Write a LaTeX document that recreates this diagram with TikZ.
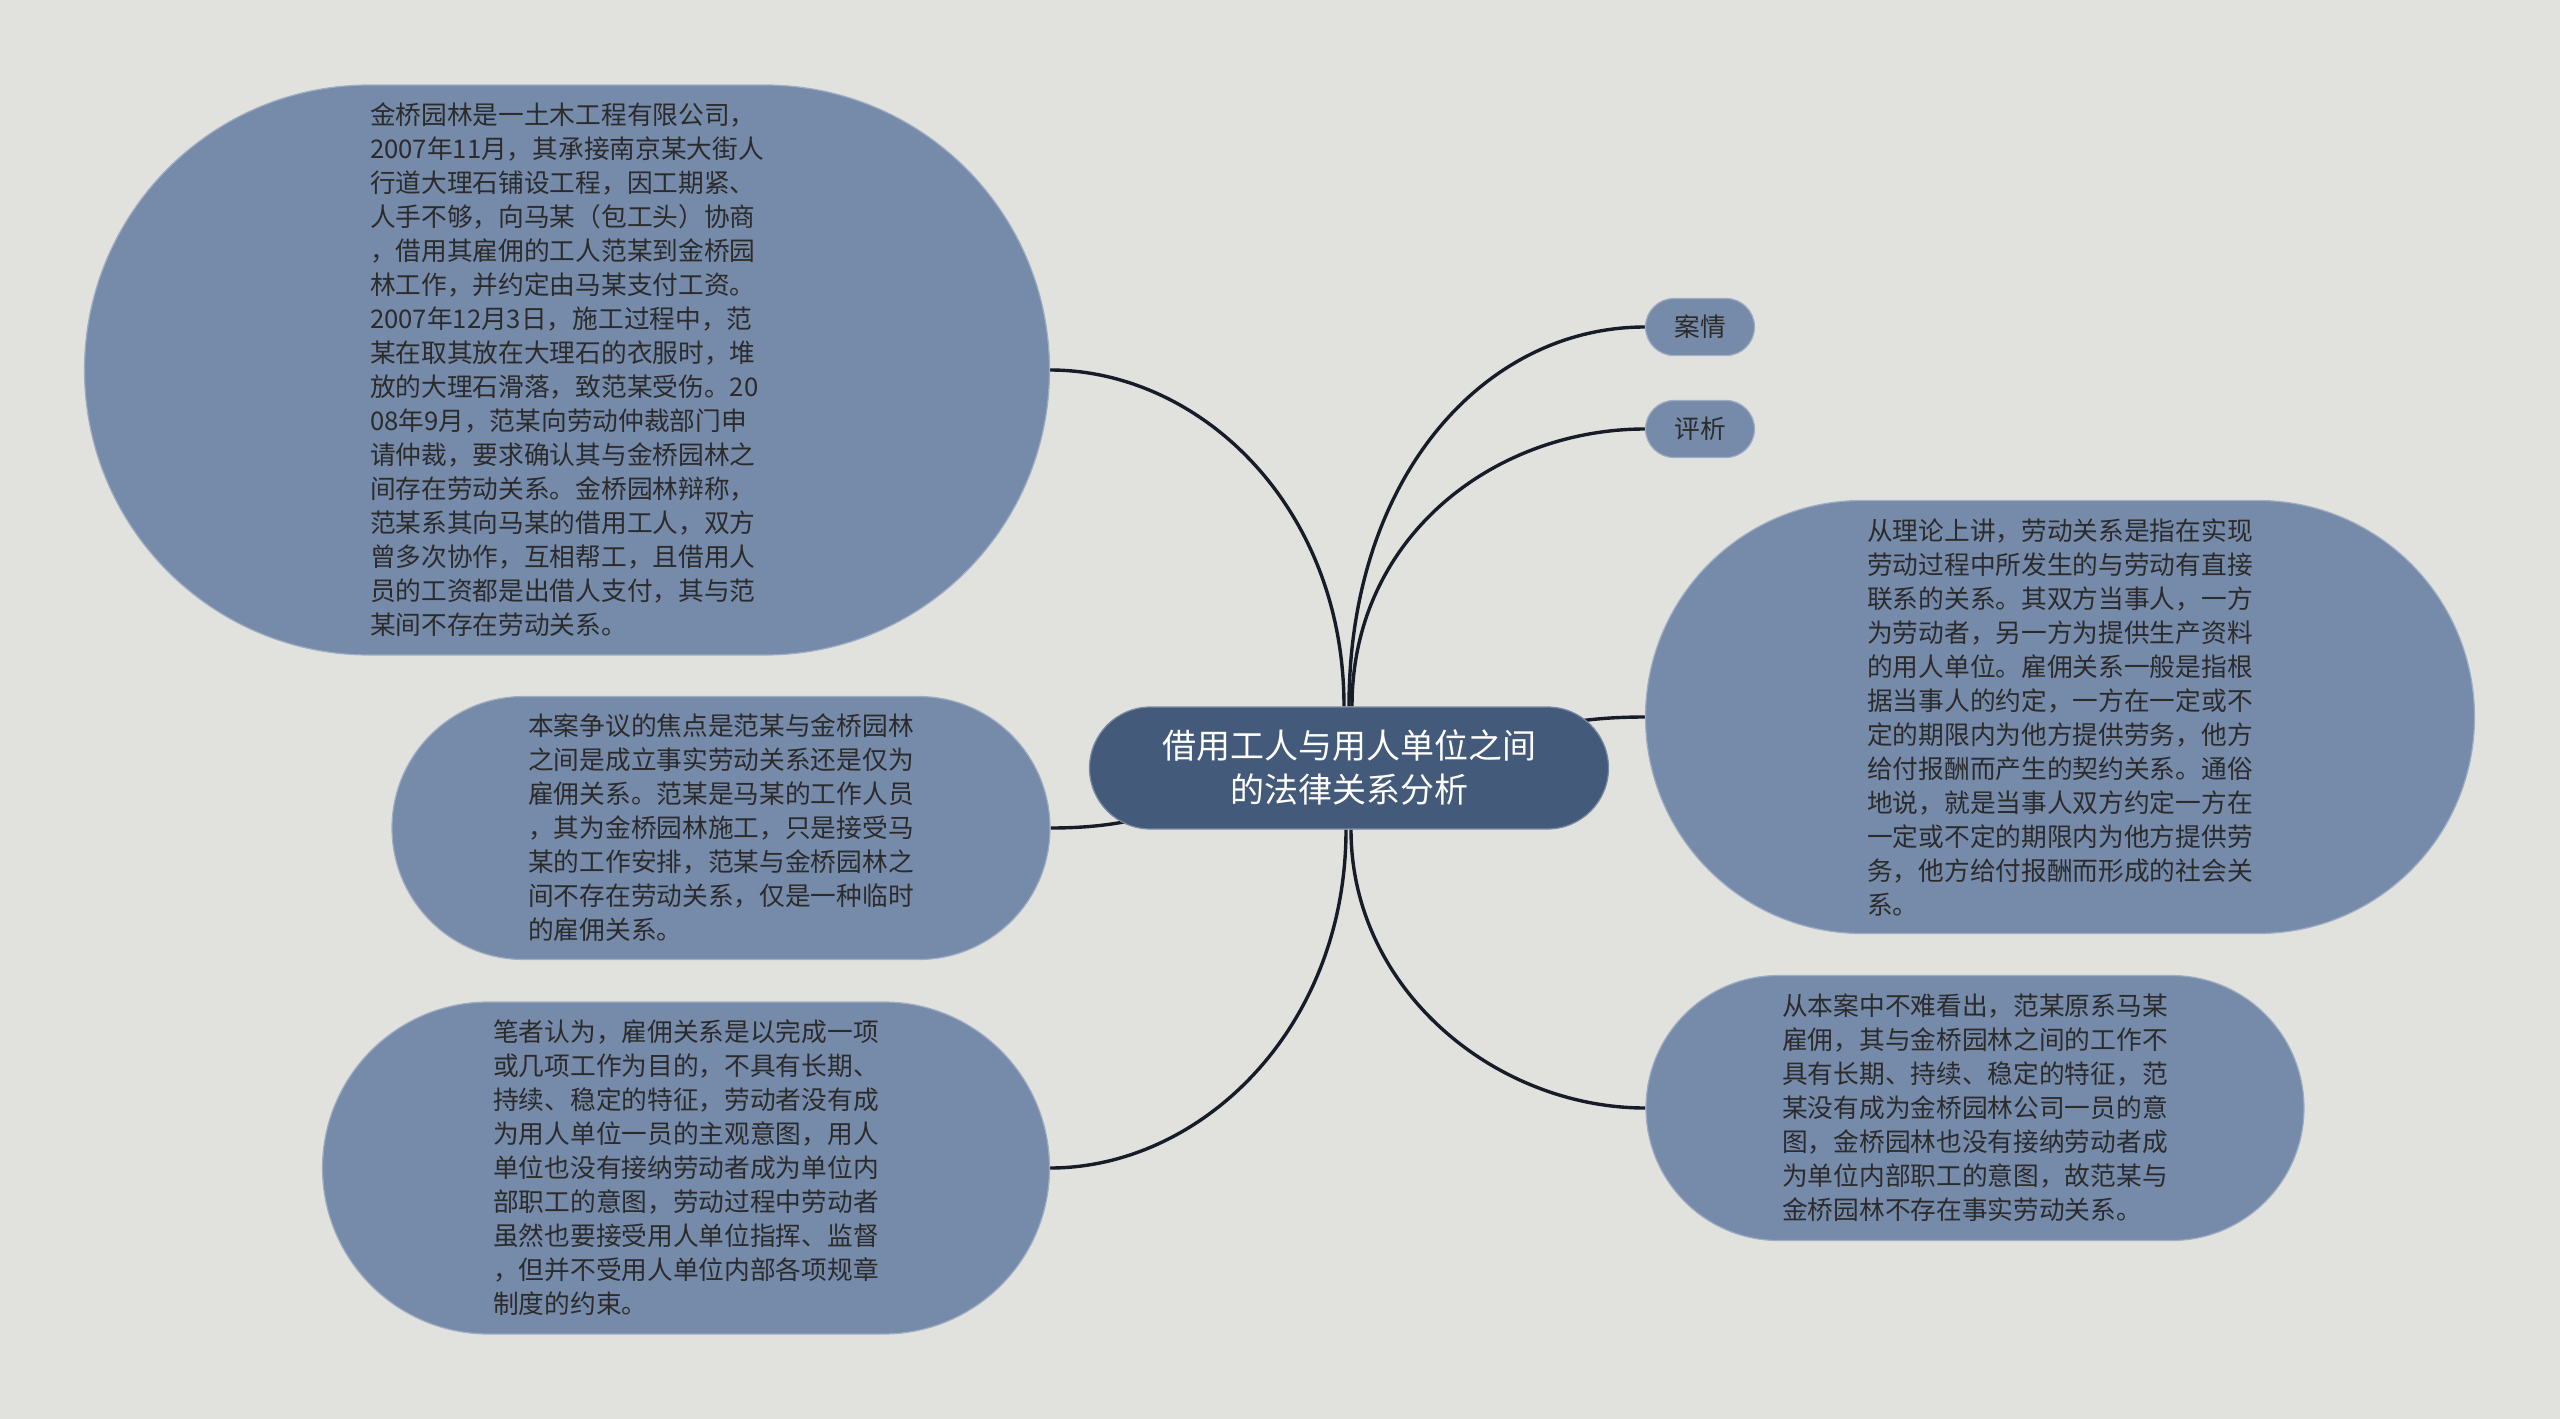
\documentclass[tikz,border=0pt]{standalone}
\usepackage{fontspec}
\setmainfont{Noto Sans CJK SC}
\usetikzlibrary{shapes.misc}
\definecolor{bgc}{HTML}{E1E2DE}
\definecolor{leaffill}{HTML}{768AAA}
\definecolor{rootfill}{HTML}{435A7A}
\definecolor{txt}{HTML}{2B2B2B}
\definecolor{edgec}{HTML}{161C28}
\pgfdeclarelayer{background}
\pgfsetlayers{background,main}
\tikzset{
  leaf/.style={rounded rectangle, fill=leaffill, draw=leaffill!70!white, line width=1.2pt,
    inner sep=0pt, text=txt, align=left, font=\fontsize{25.7}{34}\selectfont},
  root/.style={rounded rectangle, fill=rootfill, draw=rootfill!70!white, line width=1.2pt,
    inner sep=0pt, text=white, align=center, font=\fontsize{34}{44}\selectfont},
  edge/.style={draw=edgec, line width=3.4pt}
}
\begin{document}
\begin{tikzpicture}[x=1pt,y=-1pt]
\useasboundingbox (0,0) rectangle (2560,1419);

\node[root, minimum width=519pt, minimum height=122pt] (c) at (1349,768)
  {借用工人与用人单位之间\\的法律关系分析};

\node[leaf, minimum width=965pt, minimum height=570pt] (n1) at (567,370)
  {金桥园林是一土木工程有限公司，\\
   2007年11月，其承接南京某大街人\\
   行道大理石铺设工程，因工期紧、\\
   人手不够，向马某（包工头）协商\\
   ，借用其雇佣的工人范某到金桥园\\
   林工作，并约定由马某支付工资。\\
   2007年12月3日，施工过程中，范\\
   某在取其放在大理石的衣服时，堆\\
   放的大理石滑落，致范某受伤。20\\
   08年9月，范某向劳动仲裁部门申\\
   请仲裁，要求确认其与金桥园林之\\
   间存在劳动关系。金桥园林辩称，\\
   范某系其向马某的借用工人，双方\\
   曾多次协作，互相帮工，且借用人\\
   员的工资都是出借人支付，其与范\\
   某间不存在劳动关系。};

\node[leaf, minimum width=658pt, minimum height=263pt] (lm) at (721,828)
  {本案争议的焦点是范某与金桥园林\\
   之间是成立事实劳动关系还是仅为\\
   雇佣关系。范某是马某的工作人员\\
   ，其为金桥园林施工，只是接受马\\
   某的工作安排，范某与金桥园林之\\
   间不存在劳动关系，仅是一种临时\\
   的雇佣关系。};

\node[leaf, minimum width=727pt, minimum height=332pt] (lb) at (686,1168)
  {笔者认为，雇佣关系是以完成一项\\
   或几项工作为目的，不具有长期、\\
   持续、稳定的特征，劳动者没有成\\
   为用人单位一员的主观意图，用人\\
   单位也没有接纳劳动者成为单位内\\
   部职工的意图，劳动过程中劳动者\\
   虽然也要接受用人单位指挥、监督\\
   ，但并不受用人单位内部各项规章\\
   制度的约束。};

\node[leaf, minimum width=109pt, minimum height=57pt] (aq) at (1700,327) {案情};
\node[leaf, minimum width=109pt, minimum height=57pt] (px) at (1700,429) {评析};

\node[leaf, minimum width=829pt, minimum height=433pt] (rb) at (2060,717)
  {从理论上讲，劳动关系是指在实现\\
   劳动过程中所发生的与劳动有直接\\
   联系的关系。其双方当事人，一方\\
   为劳动者，另一方为提供生产资料\\
   的用人单位。雇佣关系一般是指根\\
   据当事人的约定，一方在一定或不\\
   定的期限内为他方提供劳务，他方\\
   给付报酬而产生的契约关系。通俗\\
   地说，就是当事人双方约定一方在\\
   一定或不定的期限内为他方提供劳\\
   务，他方给付报酬而形成的社会关\\
   系。};

\node[leaf, minimum width=658pt, minimum height=265pt] (rl) at (1975,1108)
  {从本案中不难看出，范某原系马某\\
   雇佣，其与金桥园林之间的工作不\\
   具有长期、持续、稳定的特征，范\\
   某没有成为金桥园林公司一员的意\\
   图，金桥园林也没有接纳劳动者成\\
   为单位内部职工的意图，故范某与\\
   金桥园林不存在事实劳动关系。};

\begin{pgfonlayer}{background}
\fill[bgc] (0,0) rectangle (2560,1419);
\draw[edge] ([xshift=-5pt]c.north) .. controls +(0,-200) and +(150,0) .. (n1.east);
\draw[edge] (c.north) .. controls +(0,-230) and +(-160,0) .. (aq.west);
\draw[edge] ([xshift=3pt]c.north) .. controls +(0,-170) and +(-150,0) .. (px.west);
\draw[edge] (c.center) .. controls +(150,0) and +(-150,0) .. (rb.west);
\draw[edge] (c.center) .. controls +(-150,0) and +(150,0) .. (lm.east);
\draw[edge] ([xshift=-3pt]c.south) .. controls +(0,200) and +(150,0) .. (lb.east);
\draw[edge] ([xshift=2pt]c.south) .. controls +(0,160) and +(-150,0) .. (rl.west);
\end{pgfonlayer}
\end{tikzpicture}
\end{document}
